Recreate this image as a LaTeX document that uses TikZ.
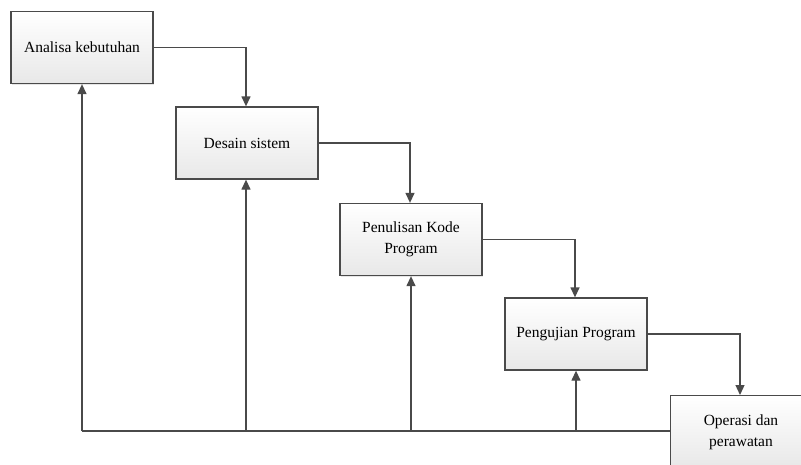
\documentclass[tikz,border=0pt]{standalone}
\usepackage{fontspec}
\setmainfont{Liberation Serif}
\usetikzlibrary{arrows.meta,shadows}
\definecolor{edge}{HTML}{4A4A4A}
\definecolor{boxbot}{HTML}{E8E8E8}
\tikzset{
  stage/.style={draw=edge, line width=1.3pt, minimum width=142pt, minimum height=72pt,
    top color=white, bottom color=boxbot, align=center, inner sep=2pt,
    font=\fontsize{15.5}{21}\selectfont, text=black,
    drop shadow={shadow xshift=1.2pt, shadow yshift=-1.2pt, opacity=0.2, fill=gray}},
  flow/.style={draw=edge, line width=1.3pt, -{Triangle[length=10pt,width=9pt]}},
  wire/.style={draw=edge, line width=1.3pt}
}
\begin{document}
\begin{tikzpicture}[x=1pt,y=-1pt]
\useasboundingbox (0,0) rectangle (801,464);
\node[stage] (a) at (82,47.5) {Analisa kebutuhan};
\node[stage] (b) at (247,143) {Desain sistem};
\node[stage] (c) at (411,239.5) {Penulisan Kode\\Program};
\node[stage] (d) at (576,334) {Pengujian Program};
\node[stage, anchor=north west] (e) at (670,395) {};
\node at (741,432) [font=\fontsize{15.5}{21}\selectfont, text=black, align=center] (et) {Operasi dan\\perawatan};
\coordinate (ea) at (246,47.5);
\coordinate (eb) at (410,143);
\coordinate (ec) at (575,239.5);
\coordinate (ed) at (740,334);
\draw[flow] (a.east) -- (ea) -- (b.north -| ea);
\draw[flow] (b.east) -- (eb) -- (c.north -| eb);
\draw[flow] (c.east) -- (ec) -- (d.north -| ec);
\draw[flow] (d.east) -- (ed) -- (e.north -| ed);
\coordinate (f1) at (82,431);
\coordinate (f2) at (246,431);
\coordinate (f3) at (411,431);
\coordinate (f4) at (576,431);
\draw[wire] (e.west |- f1) -- (f1);
\draw[flow] (f1) -- (a.south -| f1);
\draw[flow] (f2) -- (b.south -| f2);
\draw[flow] (f3) -- (c.south -| f3);
\draw[flow] (f4) -- (d.south -| f4);
\end{tikzpicture}
\end{document}
